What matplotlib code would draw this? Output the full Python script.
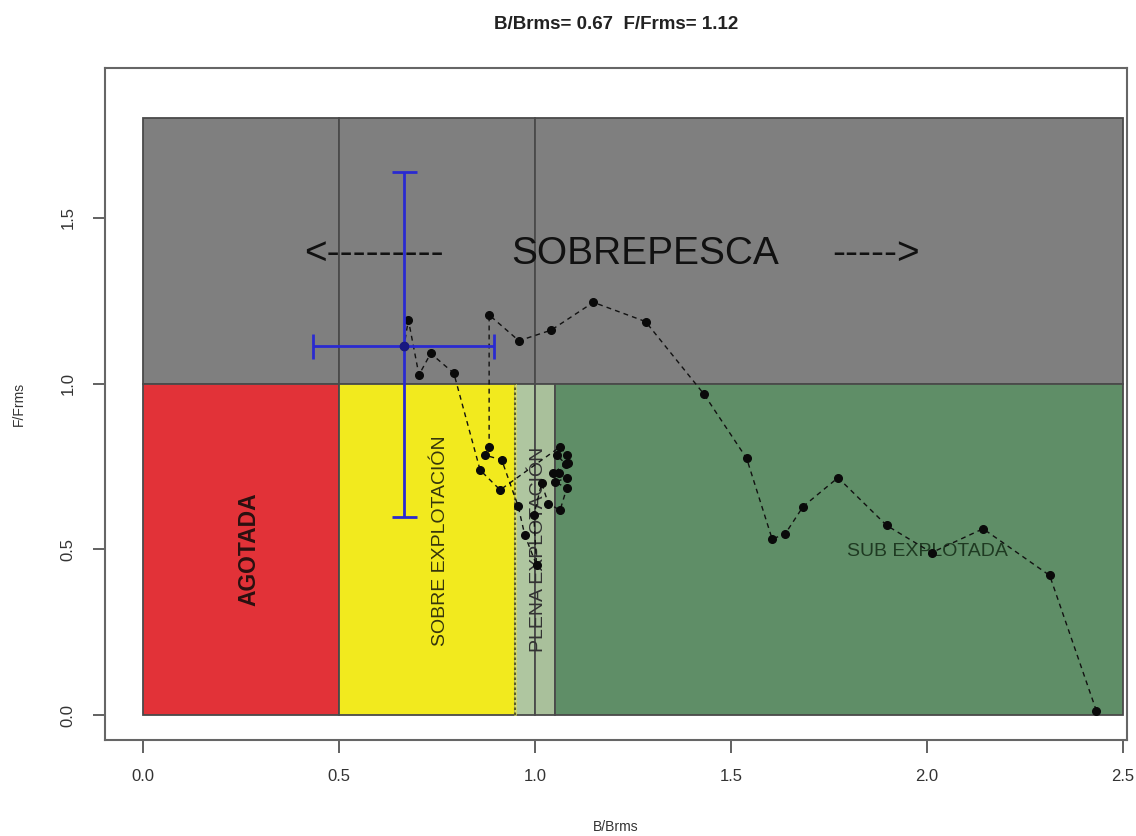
import matplotlib
matplotlib.use("Agg")
import matplotlib.pyplot as plt
from matplotlib.patches import Rectangle

plt.rcParams['font.family'] = ['Liberation Sans', 'DejaVu Sans']

# ---- data ----
title = "B/Brms= 0.67  F/Frms= 1.12"
x_label = "B/Brms"
y_label = "F/Frms"
x_ticks = [0.0, 0.5, 1.0, 1.5, 2.0, 2.5]
y_ticks = [0.0, 0.5, 1.0, 1.5]

# trajectory (time order)
traj_b = [2.432, 2.313, 2.143, 2.012, 1.897, 1.773, 1.684, 1.638, 1.605, 1.540,
          1.431, 1.282, 1.149, 1.041, 0.959, 0.883, 0.883, 0.872, 0.915, 0.957,
          0.974, 1.004, 0.997, 1.017, 1.034, 1.064, 1.081, 1.051, 1.081, 1.060,
          1.047, 1.079, 1.055, 1.085, 1.081, 1.064, 0.911, 0.860, 0.793, 0.734,
          0.704, 0.677, 0.666]
traj_f = [0.013, 0.421, 0.562, 0.490, 0.572, 0.716, 0.629, 0.546, 0.531, 0.774,
          0.968, 1.187, 1.245, 1.161, 1.129, 1.207, 0.809, 0.784, 0.770, 0.630,
          0.543, 0.452, 0.603, 0.699, 0.638, 0.618, 0.684, 0.704, 0.714, 0.729,
          0.731, 0.757, 0.784, 0.759, 0.784, 0.809, 0.679, 0.739, 1.031, 1.091,
          1.026, 1.192, 1.114]

# current status with uncertainty
cur_b, cur_f = 0.666, 1.114
b_low, b_high = 0.434, 0.895
f_low, f_high = 0.597, 1.638

# zones: (x0, x1, y0, y1, colour)
zones = [
    (0.0, 0.5, 1.0, 1.8, '#7f7f7f'),
    (0.5, 1.0, 1.0, 1.8, '#7f7f7f'),
    (1.0, 2.5, 1.0, 1.8, '#7f7f7f'),
    (0.0, 0.5, 0.0, 1.0, '#e23238'),
    (0.5, 0.95, 0.0, 1.0, '#f2ea1e'),
    (0.95, 1.0, 0.0, 1.0, '#afc6a0'),
    (1.0, 1.05, 0.0, 1.0, '#a9c09b'),
    (1.05, 2.5, 0.0, 1.0, '#5f8e67'),
]

fig = plt.figure(figsize=(11.36, 8.36), dpi=100)
ax = fig.add_axes([0.0924, 0.1148, 0.8996, 0.8039])
ax.set_xlim(-0.097, 2.510)
ax.set_ylim(-0.0754, 1.952)

for x0, x1, y0, y1, c in zones:
    ax.add_patch(Rectangle((x0, y0), x1 - x0, y1 - y0, facecolor=c,
                           edgecolor='#4a4a4a', linewidth=1.3, zorder=1))
# boundary at 0.95 shown as a dotted line rather than a solid edge
ax.plot([0.95, 0.95], [0.004, 0.996], color='#d8dc6a', linestyle='-', linewidth=1.8, zorder=2)
ax.plot([0.95, 0.95], [0.0, 1.0], color='#5c5c22', linestyle=(0, (1.2, 1.2)), linewidth=1.5, zorder=2)

# labels in zones
ax.text(1.28, 1.39, "SOBREPESCA", fontsize=28, ha='center', va='center', color='#111111', zorder=3)
ax.text(0.59, 1.39, "<---------", fontsize=28, ha='center', va='center', color='#111111', zorder=3)
ax.text(1.87, 1.39, "----->", fontsize=28, ha='center', va='center', color='#111111', zorder=3)
ax.text(0.27, 0.50, "AGOTADA", fontsize=16.5, fontweight='bold', rotation=90, ha='center',
        va='center', color='#2a1010', zorder=3)
ax.text(0.758, 0.525, "SOBRE EXPLOTACIÓN", fontsize=14, rotation=90, ha='center', va='center',
        color='#35350c', zorder=3)
ax.text(1.008, 0.50, "PLENA EXPLOTACIÓN", fontsize=14, rotation=90, ha='center', va='center',
        color='#333333', zorder=3)
ax.text(2.0, 0.492, "SUB EXPLOTADA", fontsize=14, ha='center', va='center',
        color='#1f3a22', zorder=3)

# trajectory
ax.plot(traj_b, traj_f, linestyle=(0, (3.5, 3)), color='#111111', linewidth=1.0,
        marker='o', markersize=5.5, markerfacecolor='#0a0a0a', markeredgecolor='#0a0a0a', zorder=4)

# error bars
ax.errorbar([cur_b], [cur_f], xerr=[[cur_b - b_low], [b_high - cur_b]],
            yerr=[[cur_f - f_low], [f_high - cur_f]], fmt='o', color='#2a2ad0',
            markersize=6, markerfacecolor='#1a1a80', markeredgecolor='#1a1a80',
            ecolor='#2a2ad0', elinewidth=2, capsize=9, capthick=2, zorder=5)

ax.set_title(title, fontsize=13.5, fontweight='bold', pad=28, color='#222222')
ax.set_xlabel(x_label, fontsize=10, labelpad=26, color='#333333')
ax.set_ylabel(y_label, fontsize=10, labelpad=25, color='#333333')
ax.set_xticks(x_ticks)
ax.set_xticklabels([f"{v:.1f}" for v in x_ticks])
ax.set_yticks(y_ticks)
ax.set_yticklabels([f"{v:.1f}" for v in y_ticks], rotation=90, va='center')
ax.tick_params(axis='both', direction='out', length=9, width=1.3, colors='#555555',
               labelsize=12, labelcolor='#333333', pad=12)
for s in ax.spines.values():
    s.set_color('#666666')
    s.set_linewidth(1.5)

fig.savefig("out.png", dpi=100)
